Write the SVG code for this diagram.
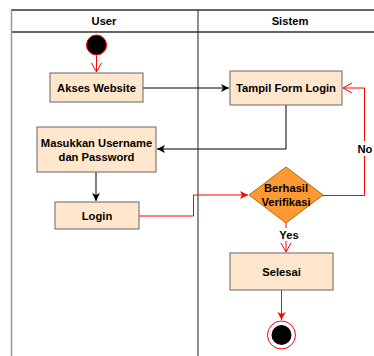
<svg xmlns="http://www.w3.org/2000/svg" width="374" height="356" viewBox="0 0 374 356">
<defs>
<style>
.box{fill:#ffe6cc;stroke:#666;stroke-width:1}
.t{font-family:"Liberation Sans",Arial,sans-serif;font-size:11.2px;font-weight:bold;fill:#000;text-anchor:middle}
.bk{fill:none;stroke:#000;stroke-width:1}
.rd{fill:none;stroke:#ff0000;stroke-width:1}
</style>
<marker id="ab" markerWidth="10" markerHeight="10" refX="8" refY="5" orient="auto" markerUnits="userSpaceOnUse"><path d="M0,1 L8,5 L0,9 L2,5 Z" fill="#000"/></marker>
<marker id="ar" markerWidth="10" markerHeight="10" refX="8" refY="5" orient="auto" markerUnits="userSpaceOnUse"><path d="M0,1 L8,5 L0,9 L2,5 Z" fill="#ff0000"/></marker>
<marker id="ao" markerWidth="12" markerHeight="12" refX="10" refY="6" orient="auto" markerUnits="userSpaceOnUse"><path d="M1,1 L10,6 L1,11" fill="none" stroke="#ff0000" stroke-width="1"/></marker>
</defs>
<rect width="374" height="356" fill="#fff"/>
<g id="pool">
<line x1="11" y1="10" x2="374" y2="10" stroke="#333" stroke-width="1.5"/>
<line x1="11" y1="32" x2="374" y2="32" stroke="#333" stroke-width="1.5"/>
<line x1="11.5" y1="10" x2="11.5" y2="356" stroke="#999" stroke-width="1.5"/>
<line x1="198" y1="10" x2="198" y2="356" stroke="#222" stroke-width="1"/>
<text class="t" x="104" y="25">User</text>
<text class="t" x="290" y="25">Sistem</text>
</g>
<g id="edges">
<line class="rd" x1="96.5" y1="55.5" x2="96.5" y2="72" marker-end="url(#ao)"/>
<line class="bk" x1="143" y1="88" x2="229" y2="88" marker-end="url(#ab)"/>
<polyline class="bk" points="286,105 286,149 157,149" marker-end="url(#ab)"/>
<line class="bk" x1="96" y1="172" x2="96" y2="201" marker-end="url(#ab)"/>
<polyline class="rd" points="139,216 193.5,216 193.5,195 248,195" marker-end="url(#ar)"/>
<polyline class="rd" points="323,195.5 364.5,195.5 364.5,88 343,88" marker-end="url(#ao)"/>
<line class="rd" x1="286" y1="223" x2="286" y2="252" marker-end="url(#ao)"/>
<line class="rd" x1="281.5" y1="290" x2="281.5" y2="320" marker-end="url(#ar)"/>
<rect x="356" y="141" width="18" height="15" fill="#fff"/>
<text class="t" x="365" y="153">No</text>
<rect x="277" y="228" width="22" height="13" fill="#fff"/>
<text class="t" x="289" y="239">Yes</text>
</g>
<g id="start"><circle cx="96.5" cy="45" r="10" fill="#000" stroke="#ff0000" stroke-width="1"/></g>
<g id="akses"><rect class="box" x="50" y="73" width="93" height="29"/><text class="t" x="96.5" y="92">Akses Website</text></g>
<g id="tampil"><rect class="box" x="230" y="71" width="112" height="34"/><text class="t" x="286" y="92">Tampil Form Login</text></g>
<g id="masukkan"><rect class="box" x="37" y="127" width="119" height="45"/><text class="t" x="96.5" y="147">Masukkan Username</text><text class="t" x="96.5" y="161">dan Password</text></g>
<g id="login"><rect class="box" x="55" y="202" width="84" height="27"/><text class="t" x="97" y="220">Login</text></g>
<g id="verif"><polygon points="286,167 323,195 286,223 249,195" fill="#ff9933" stroke="#b46504" stroke-width="1"/><text class="t" x="286" y="192">Berhasil</text><text class="t" x="286" y="206">Verifikasi</text></g>
<g id="selesai"><rect class="box" x="230" y="253" width="103" height="37"/><text class="t" x="281.5" y="276">Selesai</text></g>
<g id="end"><circle cx="281.5" cy="335" r="14" fill="#fff" stroke="#ff0000" stroke-width="1"/><circle cx="281.5" cy="335" r="10" fill="#000"/></g>
</svg>
